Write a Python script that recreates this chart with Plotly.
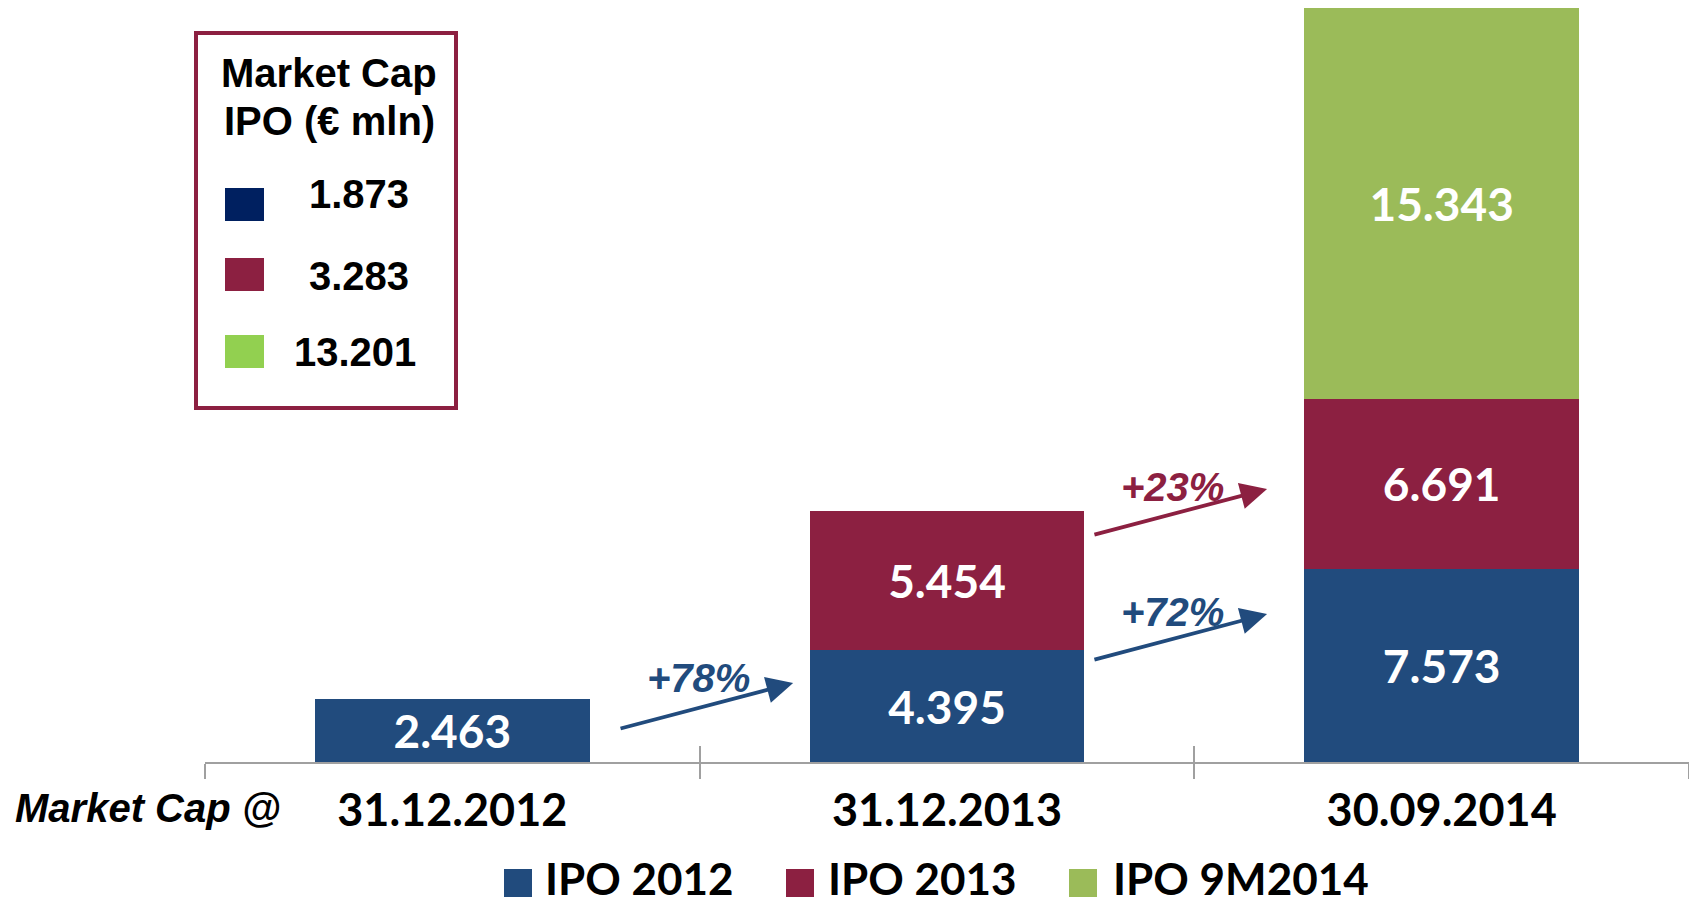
import plotly.graph_objects as go

# ---------------- data ----------------
dates = ["31.12.2012", "31.12.2013", "30.09.2014"]
ipo_2012 = [2463, 4395, 7573]
ipo_2013 = [None, 5454, 6691]
ipo_9m2014 = [None, None, 15343]
series_names = ["IPO 2012", "IPO 2013", "IPO 9M2014"]

inset_title = ["Market Cap", "IPO (€ mln)"]
inset_values = [1873, 3283, 13201]

growth_labels = ["+78%", "+72%", "+23%"]

# ---------------- style ----------------
BLUE = "#214B7D"
RED = "#8C2041"
GREEN = "#9BBB59"
INSET_COLORS = ["#002060", "#8C2041", "#92D050"]
GRAY = "#A0A0A0"
CAL = "Lato, Open Sans, sans-serif"
ARIAL = "Liberation Sans, Arial, sans-serif"

W, H = 1689, 906
ML, MR, MT, MB = 205, 0, 4, 144
PW = W - ML - MR
PH = H - MT - MB


def px(x):
    return (x - ML) / PW


def py(y):
    return (H - MB - y) / PH


fig = go.Figure()
for name, vals, col in zip(series_names, [ipo_2012, ipo_2013, ipo_9m2014], [BLUE, RED, GREEN]):
    fig.add_trace(go.Bar(
        x=dates, y=vals, name=name, width=0.555,
        marker=dict(color=col, line=dict(width=0)),
        texttemplate="%{y:,.0f}", textposition="inside",
        insidetextanchor="middle", constraintext="none", textangle=0,
        textfont=dict(family=CAL, size=46, color="white", weight="bold"),
        showlegend=False,
    ))

# invisible helper trace for the upper half of the tick marks
fig.add_trace(go.Bar(x=dates, y=[0, 0, 0], xaxis="x2", marker=dict(opacity=0),
                     hoverinfo="skip", showlegend=False))

# growth arrows (tail -> head in data units, thousands)
arrows = [
    (0.337, 1.30, 0.689, 3.10, BLUE, 0.497, 3.30),
    (1.295, 4.00, 1.647, 5.81, BLUE, 1.455, 5.89),
    (1.295, 8.91, 1.647, 10.71, RED, 1.455, 10.79),
]
ann = []
for (tx, ty, hx, hy, col, lx, ly), lab in zip(arrows, growth_labels):
    ann.append(dict(x=hx, y=hy * 1000, ax=tx, ay=ty * 1000, xref="x", yref="y",
                    axref="x", ayref="y", text="", showarrow=True,
                    arrowhead=2, arrowsize=1.4, arrowwidth=3.8, arrowcolor=col,
                    standoff=0, startstandoff=0))
    ann.append(dict(x=lx, y=ly * 1000, xref="x", yref="y", text=lab, showarrow=False,
                    xanchor="center", yanchor="middle",
                    font=dict(family=ARIAL, size=40, color=col, weight="bold", style="italic")))

# "Market Cap @"
ann.append(dict(x=px(13), y=py(808), xref="paper", yref="paper", text="Market Cap @",
                showarrow=False, xanchor="left", yanchor="middle",
                font=dict(family=ARIAL, size=40, color="black", weight="bold", style="italic")))

# bottom legend
shapes = []
leg_sq_x = [504, 786, 1069]
leg_tx_x = [543, 826, 1111]
for name, col, sx, tx in zip(series_names, [BLUE, RED, GREEN], leg_sq_x, leg_tx_x):
    shapes.append(dict(type="rect", xref="paper", yref="paper",
                       x0=px(sx), x1=px(sx + 28), y0=py(869), y1=py(897),
                       fillcolor=col, line=dict(width=0)))
    ann.append(dict(x=px(tx), y=py(878), xref="paper", yref="paper", text=name,
                    showarrow=False, xanchor="left", yanchor="middle",
                    font=dict(family=CAL, size=44, color="black", weight="bold")))

# inset box
shapes.append(dict(type="rect", xref="paper", yref="paper",
                   x0=px(196), x1=px(456), y0=py(33), y1=py(408),
                   fillcolor="rgba(0,0,0,0)", line=dict(color=RED, width=4)))
for line, cy in zip(inset_title, [73, 121]):
    ann.append(dict(x=px(329), y=py(cy), xref="paper", yref="paper", text=line,
                    showarrow=False, xanchor="center", yanchor="middle",
                    font=dict(family=ARIAL, size=40, color="black", weight="bold")))
rows_sq = [(188, 221), (258, 291), (335, 368)]
rows_tx = [(359, 194), (359, 276), (355, 352)]
for v, col, (y0, y1), (tx, ty) in zip(inset_values, INSET_COLORS, rows_sq, rows_tx):
    shapes.append(dict(type="rect", xref="paper", yref="paper",
                       x0=px(225), x1=px(264), y0=py(y1), y1=py(y0),
                       fillcolor=col, line=dict(width=0)))
    ann.append(dict(x=px(tx), y=py(ty), xref="paper", yref="paper",
                    text=f"{v:,}".replace(",", "."),
                    showarrow=False, xanchor="center", yanchor="middle",
                    font=dict(family=ARIAL, size=40, color="black", weight="bold")))

fig.update_layout(
    width=W, height=H, barmode="stack", separators=",.",
    margin=dict(l=ML, r=MR, t=MT, b=MB, pad=0),
    paper_bgcolor="white", plot_bgcolor="white",
    showlegend=False,
    xaxis=dict(type="category", range=[-0.5, 2.5], tickson="boundaries",
               showline=True, linecolor=GRAY, linewidth=2,
               ticks="outside", ticklen=15, tickwidth=1.5, tickcolor=GRAY,
               showgrid=False, zeroline=False,
               tickfont=dict(family=CAL, size=45, color="black", weight="bold"),
               ticklabelstandoff=8),
    xaxis2=dict(type="category", range=[-0.5, 2.5], tickson="boundaries",
                overlaying="x", anchor="y", side="bottom",
                showline=False, ticks="inside", ticklen=16, tickwidth=1.5, tickcolor=GRAY,
                showticklabels=False, showgrid=False, zeroline=False),
    yaxis=dict(range=[0, 29750], visible=False),
    annotations=ann, shapes=shapes,
)

fig.write_html("out.html", config={"displayModeBar": False},
               post_script="document.body.style.margin='0';")
